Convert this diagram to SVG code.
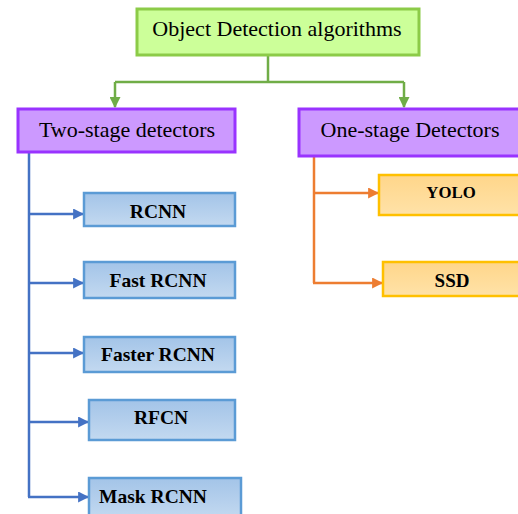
<svg xmlns="http://www.w3.org/2000/svg" width="518" height="514" viewBox="0 0 518 514">
  <defs>
    <linearGradient id="blueFill" x1="0" y1="0" x2="0" y2="1">
      <stop offset="0" stop-color="#A3C4E8"/>
      <stop offset="1" stop-color="#C3D9F0"/>
    </linearGradient>
    <linearGradient id="orangeFill" x1="0" y1="0" x2="0" y2="1">
      <stop offset="0" stop-color="#FFD68A"/>
      <stop offset="1" stop-color="#FFE2A8"/>
    </linearGradient>
    <marker id="arrowGreen" viewBox="0 0 10 10" refX="9" refY="5" markerWidth="4.4" markerHeight="4.4" orient="auto">
      <path d="M0,0 L10,5 L0,10 z" fill="#70AD47"/>
    </marker>
    <marker id="arrowBlue" viewBox="0 0 10 10" refX="9" refY="5" markerWidth="4.4" markerHeight="4.4" orient="auto">
      <path d="M0,0 L10,5 L0,10 z" fill="#4472C4"/>
    </marker>
    <marker id="arrowOrange" viewBox="0 0 10 10" refX="9" refY="5" markerWidth="4.4" markerHeight="4.4" orient="auto">
      <path d="M0,0 L10,5 L0,10 z" fill="#ED7D31"/>
    </marker>
  </defs>
  <style>
    text { font-family: "Liberation Serif", "Times New Roman", serif; fill: #000; text-anchor: middle; }
    .head { font-size: 22px; }
    .leaf { font-size: 19.5px; font-weight: bold; }
    .root rect { fill: #CCFF99; stroke: #8CCB48; stroke-width: 3; }
    .group rect { fill: #CC99FF; stroke: #9933FF; stroke-width: 3; }
    .two rect { fill: url(#blueFill); stroke: #5B9BD5; stroke-width: 2.5; }
    .one rect { fill: url(#orangeFill); stroke: #FFC000; stroke-width: 2.5; }
    .green { stroke: #70AD47; stroke-width: 2.5; fill: none; }
    .blue { stroke: #4472C4; stroke-width: 2.5; fill: none; }
    .orange { stroke: #ED7D31; stroke-width: 2.5; fill: none; }
  </style>
  <rect width="518" height="514" fill="#FFFFFF"/>

  <!-- connectors -->
  <g id="connectors">
    <path class="green" d="M268,55 V82 M115,82 H404"/>
    <path class="green" d="M115,82 V107" marker-end="url(#arrowGreen)"/>
    <path class="green" d="M404,82 V107" marker-end="url(#arrowGreen)"/>

    <path class="blue" d="M29,153 V497"/>
    <path class="blue" d="M29,214 H83" marker-end="url(#arrowBlue)"/>
    <path class="blue" d="M29,283 H83" marker-end="url(#arrowBlue)"/>
    <path class="blue" d="M29,353 H83" marker-end="url(#arrowBlue)"/>
    <path class="blue" d="M29,422 H88" marker-end="url(#arrowBlue)"/>
    <path class="blue" d="M28,497 H88" marker-end="url(#arrowBlue)"/>

    <path class="orange" d="M314,157 V283"/>
    <path class="orange" d="M314,193 H378" marker-end="url(#arrowOrange)"/>
    <path class="orange" d="M313,283 H382" marker-end="url(#arrowOrange)"/>
  </g>

  <!-- root -->
  <g id="node-root" class="root">
    <rect x="137" y="9" width="282" height="46"/>
    <text class="head" x="277" y="36">Object Detection algorithms</text>
  </g>

  <!-- stage groups -->
  <g id="node-two-stage" class="group">
    <rect x="18" y="109" width="217" height="43"/>
    <text class="head" x="127" y="137">Two-stage detectors</text>
  </g>
  <g id="node-one-stage" class="group">
    <rect x="299" y="109" width="225" height="47"/>
    <text class="head" x="410" y="137">One-stage Detectors</text>
  </g>

  <!-- two-stage detectors -->
  <g id="node-rcnn" class="two">
    <rect x="84" y="193" width="151" height="33"/>
    <text class="leaf" x="158" y="218">RCNN</text>
  </g>
  <g id="node-fast-rcnn" class="two">
    <rect x="84" y="262" width="151" height="36"/>
    <text class="leaf" x="158" y="287">Fast RCNN</text>
  </g>
  <g id="node-faster-rcnn" class="two">
    <rect x="84" y="337" width="151" height="35"/>
    <text class="leaf" x="158" y="361">Faster RCNN</text>
  </g>
  <g id="node-rfcn" class="two">
    <rect x="89" y="400" width="146" height="40"/>
    <text class="leaf" x="161" y="424">RFCN</text>
  </g>
  <g id="node-mask-rcnn" class="two">
    <rect x="89" y="478" width="152" height="40"/>
    <text class="leaf" x="153" y="503">Mask RCNN</text>
  </g>

  <!-- one-stage detectors -->
  <g id="node-yolo" class="one">
    <rect x="379" y="175" width="145" height="40"/>
    <text class="leaf" x="451" y="198" style="font-size:16.8px">YOLO</text>
  </g>
  <g id="node-ssd" class="one">
    <rect x="383" y="262" width="141" height="34"/>
    <text class="leaf" x="452" y="287" style="font-size:19px">SSD</text>
  </g>
</svg>
